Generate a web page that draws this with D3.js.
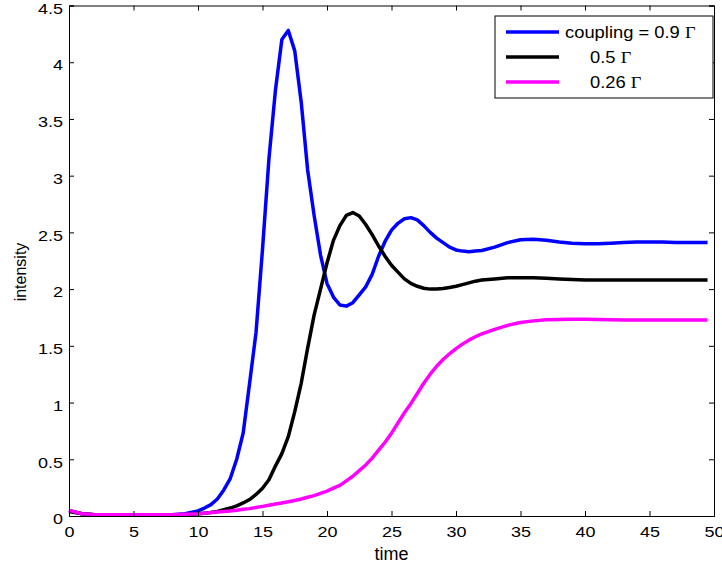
<!DOCTYPE html>
<html>
<head>
<meta charset="utf-8">
<script src="https://cdn.jsdelivr.net/npm/d3@7"></script>
<style>
  body { margin: 0; background: #fff; }
  text { font-family: "Liberation Sans", Arial, Helvetica, sans-serif; }
</style>
</head>
<body>
<svg width="722" height="566"></svg>
<script>
// time samples (shared by all curves)
var time = [0, 1, 2, 3, 4, 5, 6, 7, 8, 9,
  10, 10.5, 11, 11.5, 12, 12.5, 13, 13.5, 14, 14.5, 15, 15.5, 16, 16.5, 17, 17.5,
  18, 18.5, 19, 19.5, 20, 20.5, 21, 21.5, 22, 22.5, 23, 23.5, 24, 24.5, 25, 25.5,
  26, 26.5, 27, 27.5, 28, 28.5, 29, 29.5, 30, 30.5, 31, 31.5, 32,
  33, 34, 35, 36, 37, 38, 39, 40, 41, 42, 43, 44, 45, 46, 47, 48, 49, 49.5];

// coupling = 0.9 Gamma
var blue = [0.05, 0.02, 0.01, 0.01, 0.01, 0.01, 0.01, 0.01, 0.012, 0.02,
  0.045, 0.07, 0.1, 0.15, 0.23, 0.33, 0.5, 0.73, 1.17, 1.62, 2.35, 3.15, 3.75, 4.2, 4.28, 4.1,
  3.65, 3.05, 2.65, 2.3, 2.05, 1.93, 1.86, 1.85, 1.88, 1.95, 2.02, 2.13, 2.29, 2.42, 2.52, 2.58,
  2.62, 2.63, 2.61, 2.56, 2.5, 2.45, 2.41, 2.37, 2.345, 2.335, 2.33, 2.335, 2.34,
  2.37, 2.41, 2.435, 2.44, 2.43, 2.415, 2.405, 2.4, 2.4, 2.405, 2.41, 2.415, 2.415, 2.415, 2.41, 2.41, 2.41, 2.41];

// 0.5 Gamma
var black = [0.04, 0.02, 0.01, 0.01, 0.01, 0.01, 0.01, 0.01, 0.01, 0.012,
  0.02, 0.025, 0.03, 0.04, 0.055, 0.07, 0.09, 0.115, 0.145, 0.19, 0.245, 0.32, 0.44, 0.55, 0.7, 0.92,
  1.17, 1.48, 1.77, 2.0, 2.23, 2.43, 2.56, 2.65, 2.675, 2.645, 2.57, 2.48, 2.38, 2.29, 2.21, 2.15,
  2.09, 2.05, 2.025, 2.008, 2.0, 2.0, 2.005, 2.015, 2.025, 2.04, 2.055, 2.07, 2.08,
  2.09, 2.1, 2.1, 2.1, 2.095, 2.09, 2.085, 2.08, 2.08, 2.08, 2.08, 2.08, 2.08, 2.08, 2.08, 2.08, 2.08, 2.08];

// 0.26 Gamma
var magenta = [0.05, 0.02, 0.01, 0.01, 0.01, 0.01, 0.01, 0.01, 0.012, 0.015,
  0.02, 0.025, 0.03, 0.035, 0.04, 0.045, 0.05, 0.06, 0.065, 0.075, 0.085, 0.095, 0.105, 0.115, 0.125, 0.137,
  0.15, 0.165, 0.18, 0.2, 0.22, 0.245, 0.27, 0.31, 0.35, 0.4, 0.45, 0.51, 0.58, 0.65, 0.73, 0.82,
  0.91, 0.99, 1.08, 1.17, 1.25, 1.32, 1.38, 1.43, 1.475, 1.515, 1.55, 1.58, 1.605,
  1.645, 1.68, 1.705, 1.72, 1.73, 1.733, 1.735, 1.735, 1.733, 1.73, 1.728, 1.728, 1.728, 1.728, 1.728, 1.728, 1.728, 1.728];

var xTicks = [0, 5, 10, 15, 20, 25, 30, 35, 40, 45, 50];
var yTicks = [0, 0.5, 1, 1.5, 2, 2.5, 3, 3.5, 4, 4.5];

// legend labels (text before the Gamma sign)
var seriesNames = ["coupling = 0.9 ", "0.5 ", "0.26 "];
var seriesColors = ["#0000ff", "#000000", "#ff00ff"];
var seriesValues = [blue, black, magenta];

// plot area
var margin = {top: 5.5, right: 8, bottom: 50, left: 69},
    width = 722 - margin.left - margin.right,
    height = 566 - margin.top - margin.bottom;

var svg = d3.select("svg")
  .append("g")
    .attr("transform", "translate(" + margin.left + "," + margin.top + ")");

var x = d3.scaleLinear().domain([0, 50]).range([0, width]);
var y = d3.scaleLinear().domain([0, 4.5]).range([height, 0]);

// curves
var line = d3.line()
    .x(function(d) { return x(d[0]); })
    .y(function(d) { return y(d[1]); });

seriesValues.forEach(function(vals, i) {
  svg.append("path")
      .datum(time.map(function(t, j) { return [t, vals[j]]; }))
      .attr("fill", "none")
      .attr("stroke", seriesColors[i])
      .attr("stroke-width", 3.5)
      .attr("stroke-linejoin", "round")
      .attr("d", line);
});

// axes with inward ticks on all four sides
var tickLen = 5;
var xAxis = svg.append("g")
    .attr("transform", "translate(0," + height + ")")
    .call(d3.axisBottom(x).tickValues(xTicks).tickSize(-tickLen).tickPadding(10).tickFormat(d3.format("")));
svg.append("g")
    .call(d3.axisTop(x).tickValues(xTicks).tickSize(-tickLen).tickFormat(""));
var yAxis = svg.append("g")
    .call(d3.axisLeft(y).tickValues(yTicks).tickSize(-tickLen).tickPadding(6).tickFormat(d3.format("")));
svg.append("g")
    .attr("transform", "translate(" + width + ",0)")
    .call(d3.axisRight(y).tickValues(yTicks).tickSize(-tickLen).tickFormat(""));

svg.selectAll(".domain").attr("stroke", "#000").attr("stroke-width", 1);
svg.selectAll(".tick line").attr("stroke", "#000");
svg.selectAll(".tick text").attr("font-size", 15.5).attr("fill", "#000")
    .style("font-family", "'Liberation Sans', Arial, sans-serif");

// the reference glyphs are a bit wider than plain Helvetica
xAxis.selectAll(".tick text").attr("transform", "scale(1.16,1)");
yAxis.selectAll(".tick text")
    .attr("x", 0)
    .attr("dy", "0.5em")
    .attr("transform", "translate(-6,0) scale(1.16,1)");

// axis labels
svg.append("text")
    .attr("x", width / 2)
    .attr("y", height + 44)
    .attr("text-anchor", "middle")
    .attr("font-size", 18)
    .text("time");

svg.append("text")
    .attr("transform", "translate(" + (-43) + "," + (272 - margin.top) + ") rotate(-90)")
    .attr("text-anchor", "middle")
    .attr("font-size", 16)
    .text("intensity");

// legend
var legend = svg.append("g").attr("transform", "translate(" + (495 - margin.left) + "," + (16 - margin.top) + ")");
legend.append("rect")
    .attr("width", 218)
    .attr("height", 82)
    .attr("fill", "#fff")
    .attr("stroke", "#000")
    .attr("stroke-width", 1);

var textX = [70, 95, 95];
seriesNames.forEach(function(name, i) {
  var ry = 16 + i * 25;
  legend.append("line")
      .attr("x1", 11).attr("x2", 64)
      .attr("y1", ry).attr("y2", ry)
      .attr("stroke", seriesColors[i])
      .attr("stroke-width", 3.5);
  var t = legend.append("text")
      .attr("transform", "translate(" + textX[i] + "," + (ry + 6) + ") scale(1.08,1)")
      .attr("font-size", 17)
      .text(name);
  t.append("tspan")
      .style("font-family", "'Liberation Serif', 'Times New Roman', serif")
      .text("\u0393");
});
</script>
</body>
</html>
